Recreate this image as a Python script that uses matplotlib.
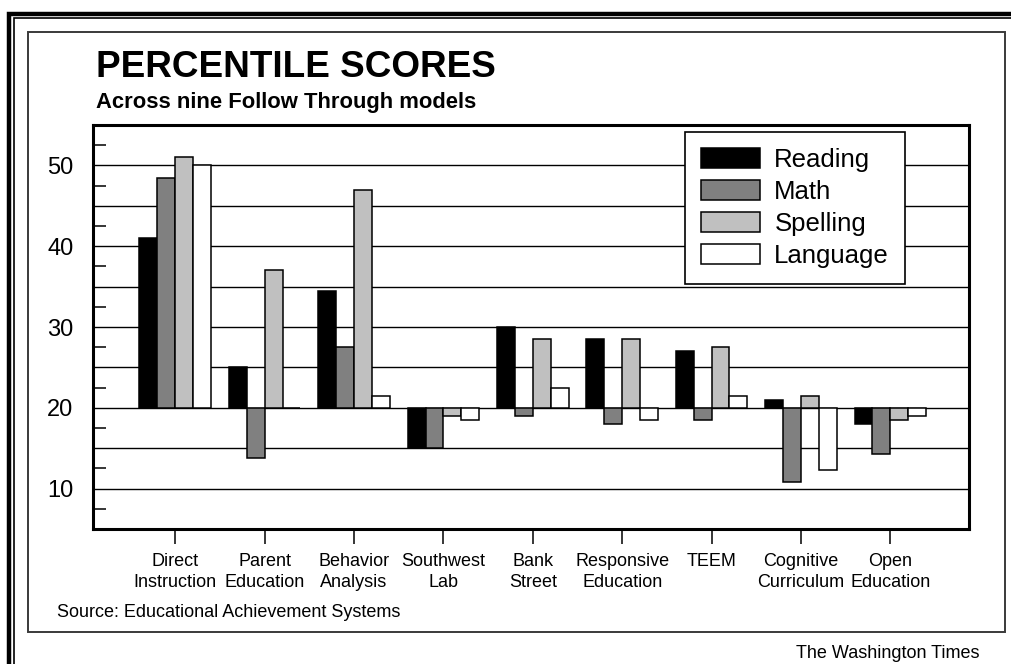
import numpy as np
import matplotlib.pyplot as plt
from matplotlib.lines import Line2D
from matplotlib.patches import Rectangle

plt.rcParams["font.family"] = ["Liberation Sans", "DejaVu Sans"]

W, H = 1012, 664

categories = [
    "Direct\nInstruction", "Parent\nEducation", "Behavior\nAnalysis",
    "Southwest\nLab", "Bank\nStreet", "Responsive\nEducation", "TEEM",
    "Cognitive\nCurriculum", "Open\nEducation",
]
series = ["Reading", "Math", "Spelling", "Language"]
reading = [41, 25, 34.5, 15, 30, 28.5, 27, 21, 18]
math = [48.5, 13.8, 27.5, 15, 19, 18, 18.5, 10.8, 14.3]
spelling = [51, 37, 47, 19, 28.5, 28.5, 27.5, 21.5, 18.5]
language = [50, 20, 21.5, 18.5, 22.5, 18.5, 21.5, 12.3, 19]
baseline = 20
y_labels = [10, 20, 30, 40, 50]

colors = ["#000000", "#808080", "#c0c0c0", "#ffffff"]


def fx(px):
    return px / W


def fy(py):
    return 1 - py / H


fig = plt.figure(figsize=(W / 100, H / 100), dpi=100)
ax = fig.add_axes([fx(93), fy(529), fx(969) - fx(93), fy(125) - fy(529)])

x = np.arange(len(categories))
width = 0.2
offsets = [-0.3, -0.1, 0.1, 0.3]
for vals, name, col, off in zip([reading, math, spelling, language], series, colors, offsets):
    v = np.array(vals, dtype=float)
    ax.bar(x + off, v - baseline, width, bottom=baseline, color=col,
           edgecolor="black", linewidth=1.1, label=name, zorder=3)

ax.set_xlim(-0.92, 8.88)
ax.set_ylim(5, 55)

# grid every 5 units, drawn behind the bars
for g in range(10, 51, 5):
    ax.axhline(g, color="black", linewidth=1.0, zorder=1)

ax.set_yticks(y_labels)
ax.set_yticklabels([str(v) for v in y_labels], fontsize=17)
ax.set_yticks(np.arange(7.5, 55, 5), minor=True)
ax.tick_params(axis="y", which="major", length=0, pad=14)
ax.tick_params(axis="y", which="minor", direction="in", length=9.5, width=1.1)

ax.set_xticks(x)
ax.set_xticklabels(categories, fontsize=13, linespacing=1.3)
ax.tick_params(axis="x", direction="out", length=11, width=1.1, pad=6)

for sp in ax.spines.values():
    sp.set_linewidth(2.2)
    sp.set_color("black")

leg = ax.legend(loc="upper right", bbox_to_anchor=(0.927, 0.983), borderaxespad=0,
                fontsize=18.5, frameon=True, fancybox=False, handlelength=2.3,
                handleheight=0.82, handletextpad=0.55, labelspacing=0.31,
                borderpad=0.62)
leg.get_frame().set_edgecolor("black")
leg.get_frame().set_linewidth(1.2)
leg.get_frame().set_alpha(1)
leg.set_zorder(5)

# outer frame: heavy + thin rules along top and left
fig.add_artist(Line2D([fx(9.5), fx(9.5), fx(1012)], [fy(664), fy(14), fy(14)],
                      lw=3.2, color="black", solid_joinstyle="miter"))
fig.add_artist(Line2D([fx(14), fx(14), fx(1012)], [fy(664), fy(18.3), fy(18.3)],
                      lw=1.2, color="black", solid_joinstyle="miter"))
fig.add_artist(Rectangle((fx(28.5), fy(632)), fx(1005) - fx(28.5), fy(32) - fy(632),
                         fill=False, ec="#3a3a3a", lw=1.4, transform=fig.transFigure))

fig.text(fx(96), fy(77), "PERCENTILE SCORES", fontsize=26.6, fontweight="bold",
         ha="left", va="baseline")
fig.text(fx(96), fy(108), "Across nine Follow Through models", fontsize=15.8,
         fontweight="bold", ha="left", va="baseline")
fig.text(fx(57), fy(617), "Source: Educational Achievement Systems", fontsize=13,
         ha="left", va="baseline")
fig.text(fx(980), fy(658), "The Washington Times", fontsize=13,
         ha="right", va="baseline")

fig.savefig("out.png", dpi=100, facecolor="white")
